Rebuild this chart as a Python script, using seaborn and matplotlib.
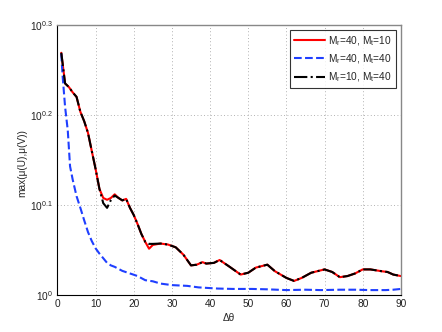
import numpy as np
import pandas as pd
import seaborn as sns
import matplotlib.pyplot as plt
from matplotlib import ticker

# Mr=40, Mt=10 (red)
THETA_A = [1, 2, 3, 4, 5, 6, 7, 8, 9, 10, 11, 12, 13, 14, 15, 16, 17, 18, 19, 20,
           21, 22, 23, 24, 25, 27, 29, 31, 33, 35, 36.5, 38, 39, 41, 42.5, 45, 48,
           50, 52, 55, 57, 60, 62, 64, 66.5, 70, 72, 74, 76, 78, 80, 82, 85, 86.5,
           88, 90]
MU_A = [1.858, 1.718, 1.702, 1.679, 1.660, 1.598, 1.560, 1.514, 1.445, 1.380,
        1.312, 1.282, 1.276, 1.282, 1.294, 1.282, 1.274, 1.279, 1.250, 1.227,
        1.199, 1.169, 1.146, 1.126, 1.137, 1.141, 1.138, 1.130, 1.109, 1.079,
        1.081, 1.088, 1.084, 1.086, 1.094, 1.076, 1.054, 1.059, 1.073, 1.081,
        1.063, 1.045, 1.037, 1.045, 1.059, 1.068, 1.061, 1.047, 1.050, 1.057,
        1.068, 1.068, 1.063, 1.061, 1.054, 1.050]

# Mr=40, Mt=40 (blue)
THETA_B = [1, 1.3, 2, 2.7, 3.3, 4, 5, 6, 7, 8, 9, 10, 11, 12, 13, 14, 15, 17, 19,
           21, 23, 25, 27, 30, 34, 37, 42, 46, 51, 55, 60, 65, 69, 74, 78, 82, 86,
           88, 90]
MU_B = [1.854, 1.762, 1.618, 1.524, 1.390, 1.343, 1.288, 1.250, 1.211, 1.175,
        1.148, 1.127, 1.112, 1.099, 1.086, 1.079, 1.075, 1.064, 1.057, 1.050,
        1.039, 1.036, 1.030, 1.026, 1.024, 1.020, 1.017, 1.016, 1.016, 1.015,
        1.013, 1.014, 1.013, 1.014, 1.014, 1.013, 1.013, 1.014, 1.016]

# Mr=10, Mt=40 (black)
THETA_C = [1, 2, 3, 4, 5, 6, 7, 8, 9, 10, 11, 12, 13, 14, 15, 16, 17, 18, 19, 20,
           21, 22, 23, 24, 25, 27, 29, 31, 33, 35, 36.5, 38, 39, 41, 42.5, 45, 48,
           50, 52, 55, 57, 60, 62, 64, 66.5, 70, 72, 74, 76, 78, 80, 82, 85, 86.5,
           88, 90]
MU_C = [1.858, 1.718, 1.702, 1.679, 1.660, 1.598, 1.560, 1.514, 1.445, 1.380,
        1.312, 1.265, 1.250, 1.275, 1.290, 1.282, 1.274, 1.279, 1.250, 1.227,
        1.199, 1.169, 1.146, 1.140, 1.140, 1.141, 1.138, 1.130, 1.109, 1.079,
        1.081, 1.088, 1.084, 1.086, 1.094, 1.076, 1.054, 1.059, 1.073, 1.081,
        1.063, 1.045, 1.037, 1.045, 1.059, 1.068, 1.061, 1.047, 1.050, 1.057,
        1.068, 1.068, 1.063, 1.061, 1.054, 1.050]

LABELS = ["M$_r$=40, M$_t$=10", "M$_r$=40, M$_t$=40", "M$_r$=10, M$_t$=40"]
Y_TICKS = [0, 0.1, 0.2, 0.3]
X_TICKS = list(range(0, 91, 10))

FS = 7.3

sns.set_style("white")
plt.rcParams["font.family"] = ["Liberation Sans", "DejaVu Sans"]
plt.rcParams["mathtext.fontset"] = "custom"
plt.rcParams["mathtext.rm"] = "Liberation Sans"
plt.rcParams["mathtext.it"] = "Liberation Sans"

fig = plt.figure(figsize=(4.42, 3.32), dpi=100)
ax = fig.add_axes([0.130, 0.111, 0.777, 0.814])

series = [
    (THETA_A, MU_A, "#ff0000", None, "-"),
    (THETA_B, MU_B, "#1f3fff", (3.0, 2.0), "--"),
    (THETA_C, MU_C, "black", (3.0, 1.5, 0.6, 1.5), "-."),
]
for (th, mu, col, dash, ls), lab in zip(series, LABELS):
    df = pd.DataFrame({"theta": th, "mu": mu})
    line_kw = {} if dash is None else {"dashes": dash}
    sns.lineplot(data=df, x="theta", y="mu", color=col, linewidth=1.5,
                 label=lab, ax=ax, linestyle=ls, **line_kw)

ax.set_yscale("log")
ax.set_xlim(0, 90)
ax.set_ylim(1, 10 ** 0.3)
ax.set_xticks(X_TICKS)
ax.set_yticks([10 ** v for v in Y_TICKS])
ax.set_yticklabels([r"$10^{%g}$" % v for v in Y_TICKS])
ax.yaxis.set_minor_locator(ticker.NullLocator())
ax.tick_params(direction="in", labelsize=FS, length=3, pad=3,
               colors="#222222")
ax.grid(True, linestyle=(0, (1, 3)), color="#999999", linewidth=0.6)

for side in ["left", "bottom"]:
    ax.spines[side].set_color("black")
    ax.spines[side].set_linewidth(0.8)
for side in ["top", "right"]:
    ax.spines[side].set_color("#888888")
    ax.spines[side].set_linewidth(1.0)

ax.set_xlabel("Δθ", fontsize=FS, labelpad=3)
ax.set_ylabel("max(μ(U),μ(V))", fontsize=FS)
ax.yaxis.set_label_coords(-0.089, 0.49)

leg = ax.legend(loc="upper right", fontsize=FS, frameon=True, fancybox=False,
                handlelength=3.1, borderpad=0.4, labelspacing=0.45,
                borderaxespad=0.5, handletextpad=0.3)
leg.get_frame().set_edgecolor("black")
leg.get_frame().set_linewidth(0.8)

fig.savefig("out.png", dpi=100)
